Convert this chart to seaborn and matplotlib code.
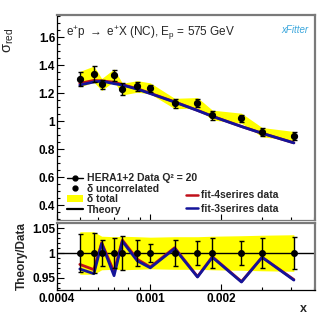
import numpy as np
import pandas as pd
import matplotlib
matplotlib.use("Agg")
import matplotlib.pyplot as plt
import seaborn as sns
from matplotlib.lines import Line2D
from matplotlib.patches import Patch
from matplotlib.ticker import FixedLocator, NullFormatter, MultipleLocator

# HERA1+2 e+p NC, Ep = 575 GeV, Q^2 = 20
x_vals = [0.0005, 0.000574, 0.00062, 0.0007, 0.00076, 0.00088, 0.001,
          0.00127, 0.00159, 0.00184, 0.00245, 0.003, 0.0041]
sigma = [1.300, 1.336, 1.262, 1.329, 1.229, 1.248, 1.234,
         1.126, 1.131, 1.043, 1.021, 0.921, 0.893]
unc_rel = [0.038, 0.041, 0.026, 0.030, 0.034, 0.027, 0.018,
           0.027, 0.024, 0.031, 0.024, 0.031, 0.033]
tot_rel = [0.043, 0.043, 0.034, 0.033, 0.034, 0.033, 0.032,
           0.033, 0.033, 0.034, 0.035, 0.036, 0.037]
theory_4 = [1.270, 1.291, 1.288, 1.278, 1.261, 1.232, 1.199,
            1.138, 1.077, 1.035, 0.962, 0.913, 0.845]
theory_3 = [1.258, 1.280, 1.286, 1.268, 1.258, 1.228, 1.197,
            1.136, 1.076, 1.034, 0.961, 0.913, 0.844]

sns.set_theme(style="ticks")
plt.rcParams['font.family'] = ['Liberation Sans', 'DejaVu Sans']
plt.rcParams['mathtext.fontset'] = 'custom'
plt.rcParams['mathtext.rm'] = 'Liberation Sans'
plt.rcParams['mathtext.it'] = 'Liberation Sans:italic'
plt.rcParams['mathtext.bf'] = 'Liberation Sans:bold'

df = pd.DataFrame({'x': x_vals, 'sigma': sigma, 'unc': unc_rel, 'tot': tot_rel,
                   'th4': theory_4, 'th3': theory_3})
df['r4'] = df['th4'] / df['sigma']
df['r3'] = df['th3'] / df['sigma']

RED = '#c0101a'
BLUE = '#14149a'
YEL = '#ffff00'
GRAY = '#7a7a7a'

fig = plt.figure(figsize=(3.32, 3.23), dpi=100)
ax = fig.add_axes([0.172, 0.319, 0.777, 0.635])
ax2 = fig.add_axes([0.172, 0.102, 0.777, 0.208])

for a in (ax, ax2):
    a.set_xscale('log')
    a.set_xlim(0.0004, 0.00505)
    a.xaxis.set_major_locator(FixedLocator([0.0004, 0.001, 0.002]))
    a.xaxis.set_minor_locator(FixedLocator([0.0005, 0.0006, 0.0007, 0.0008, 0.0009,
                                            0.003, 0.004, 0.005]))
    a.xaxis.set_minor_formatter(NullFormatter())
    a.tick_params(axis='both', which='both', direction='in', colors='black')
    a.tick_params(axis='y', which='major', length=5, width=0.8, pad=1.5,
                  labelsize=8.5)
    a.tick_params(axis='y', which='minor', length=2.5, width=0.8)
    a.tick_params(axis='x', which='major', length=4, width=0.8, pad=2,
                  labelsize=8.5)
    a.tick_params(axis='x', which='minor', length=2.5, width=0.8)
    for s in ('top', 'right'):
        a.spines[s].set_color(GRAY)
        a.spines[s].set_linewidth(1.6)
    a.spines['left'].set_linewidth(0.9)
    a.spines['bottom'].set_linewidth(0.9)
    a.spines['bottom'].set_color(GRAY)
    a.spines['left'].set_color('black')

# upper panel
ax.fill_between(df['x'], df['sigma'] * (1 - df['tot']), df['sigma'] * (1 + df['tot']),
                color=YEL, lw=0)
sns.lineplot(data=df, x='x', y='th4', ax=ax, color=RED, lw=2.0)
sns.lineplot(data=df, x='x', y='th3', ax=ax, color=BLUE, lw=2.0)
ax.errorbar(df['x'], df['sigma'], yerr=df['sigma'] * df['unc'], fmt='o', color='black',
            ms=4.2, elinewidth=1, capsize=1.8, capthick=1)
ax.set_ylim(0.293, 1.76)
ax.yaxis.set_major_locator(FixedLocator([0.4, 0.6, 0.8, 1.0, 1.2, 1.4, 1.6]))
ax.yaxis.set_major_formatter(plt.FuncFormatter(lambda v, p: f"{v:g}"))
ax.yaxis.set_minor_locator(MultipleLocator(0.05))
ax.set_xticklabels([])
ax.set_xlabel('')
ax.set_ylabel(r'σ$_{\mathrm{red}}$', fontsize=10.5)
ax.yaxis.set_label_coords(-0.16, 0.875)
for lab in ax.get_yticklabels():
    lab.set_fontweight('bold')

ax.text(0.035, 0.955, r'e$^{+}$p $\rightarrow$ e$^{+}$X (NC), E$_{\mathrm{p}}$ = 575 GeV',
        transform=ax.transAxes, fontsize=8.5, va='top', ha='left')
ax.text(0.975, 0.925, 'xFitter', transform=ax.transAxes, fontsize=7,
        style='italic', color='#3aa6dc', ha='right', va='center')

h_left = [Line2D([], [], color='black', marker='o', ms=3.5, lw=1),
          Line2D([], [], color='black', marker='o', ms=3.5, lw=0),
          Patch(facecolor=YEL, edgecolor='none'),
          Line2D([], [], color='black', lw=1.6)]
l_left = ['HERA1+2 Data Q² = 20', 'δ uncorrelated', 'δ total', 'Theory']
leg1 = ax.legend(h_left, l_left, loc='lower left', bbox_to_anchor=(0.04, 0.025),
                 frameon=False, prop={'weight': 'bold', 'size': 7.5},
                 handlelength=1.5, handleheight=0.6, labelspacing=0.05,
                 handletextpad=0.4, borderaxespad=0, borderpad=0)
ax.add_artist(leg1)
h_right = [Line2D([], [], color=RED, lw=1.8), Line2D([], [], color=BLUE, lw=1.8)]
ax.legend(h_right, ['fit-4serires data', 'fit-3serires data'], loc='lower left',
          bbox_to_anchor=(0.5, 0.03), frameon=False,
          prop={'weight': 'bold', 'size': 7.5}, handlelength=1.1,
          labelspacing=0.35, handletextpad=0.35, borderaxespad=0, borderpad=0)

# lower panel
ax2.fill_between(df['x'], 1 - df['tot'], 1 + df['tot'], color=YEL, lw=0)
ax2.axhline(1.0, color='black', lw=1)
sns.lineplot(data=df, x='x', y='r4', ax=ax2, color=RED, lw=2.0)
sns.lineplot(data=df, x='x', y='r3', ax=ax2, color=BLUE, lw=2.0)
ax2.errorbar(df['x'], np.ones(len(df)), yerr=df['unc'], fmt='o', color='black',
             ms=4, elinewidth=1, capsize=1.8, capthick=1)
ax2.set_ylim(0.925, 1.061)
ax2.yaxis.set_major_locator(FixedLocator([0.95, 1.0, 1.05]))
ax2.yaxis.set_major_formatter(plt.FuncFormatter(lambda v, p: f"{v:g}"))
ax2.yaxis.set_minor_locator(MultipleLocator(0.01))
ax2.xaxis.set_major_formatter(plt.FuncFormatter(lambda v, p: f"{v:g}"))
ax2.spines['bottom'].set_color('black')
ax2.set_ylabel('Theory/Data', fontsize=8.5, fontweight='bold', labelpad=3)
ax2.set_xlabel('x', loc='right', fontsize=9, fontweight='bold', labelpad=4)
ax2.xaxis.set_label_coords(0.97, -0.2)
for lab in ax2.get_yticklabels() + ax2.get_xticklabels():
    lab.set_fontweight('bold')

fig.savefig('out.png', dpi=100)
